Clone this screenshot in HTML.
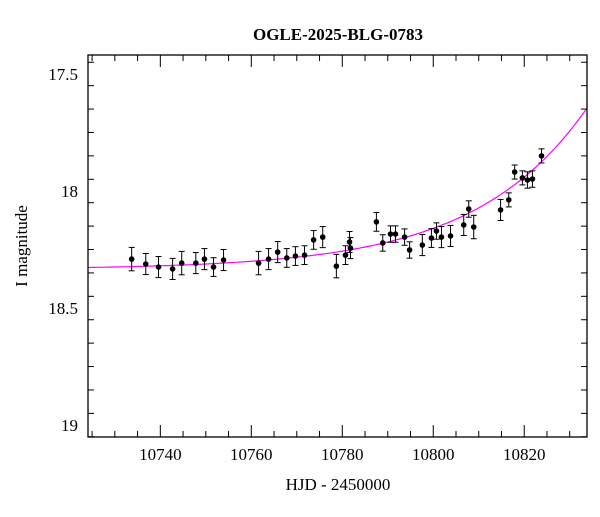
<!DOCTYPE html>
<html><head><meta charset="utf-8"><style>
body{margin:0;background:#fff;}
svg text{font-family:"Liberation Serif",serif;fill:#000;}
</style></head><body>
<svg id="chart" width="600" height="512" xmlns="http://www.w3.org/2000/svg">
<text x="338" y="40" font-size="17" font-weight="bold" text-anchor="middle">OGLE-2025-BLG-0783</text>
<text x="338" y="490" font-size="17" text-anchor="middle">HJD - 2450000</text>
<text transform="translate(27,246) rotate(-90)" font-size="17" text-anchor="middle">I magnitude</text>
<g id="ticks"></g>
<path id="model" fill="none" stroke="#ff00ff" stroke-width="1.2"/>
<g id="points"></g>
<rect x="88" y="55" width="499" height="382" fill="none" stroke="#000" stroke-width="1.3"/>
</svg>
<script>
const hjd=[10733.7,10736.8,10739.6,10742.7,10744.7,10747.8,10749.7,10751.7,10753.9,10761.6,10763.8,10765.8,10767.8,10769.7,10771.7,10773.7,10775.7,10778.7,10780.7,10781.6,10781.8,10787.5,10788.9,10790.6,10791.7,10793.7,10794.8,10797.6,10799.6,10800.7,10801.8,10803.8,10806.7,10807.8,10808.9,10814.8,10816.6,10817.9,10819.6,10820.7,10821.8,10823.8];
const mag=[18.291,18.312,18.325,18.333,18.308,18.308,18.291,18.325,18.295,18.308,18.291,18.261,18.286,18.278,18.274,18.209,18.197,18.321,18.274,18.218,18.244,18.132,18.222,18.184,18.184,18.197,18.252,18.231,18.201,18.171,18.197,18.192,18.145,18.077,18.154,18.081,18.038,17.919,17.944,17.953,17.949,17.85];
const err=[0.05,0.045,0.045,0.045,0.05,0.045,0.045,0.04,0.045,0.05,0.045,0.045,0.04,0.04,0.04,0.04,0.045,0.05,0.04,0.045,0.045,0.04,0.035,0.035,0.035,0.035,0.035,0.045,0.04,0.035,0.045,0.045,0.045,0.035,0.05,0.045,0.03,0.03,0.03,0.035,0.035,0.03];
const xTicks=[10740,10760,10780,10800,10820];
const yTicks=[17.5,18,18.5,19];
const modelBase=[18.335];const modelAmp=[0.695];const modelRate=[0.0405];const modelRef=[10834];
const X0=88,X1=587,Y0=55,Y1=437,D0=10724.1,D1=10833.8,M0=17.419,M1=19.051;
const xs=d=>X0+(d-D0)/(D1-D0)*(X1-X0);
const ys=m=>Y0+(m-M0)/(M1-M0)*(Y1-Y0);
const NS='http://www.w3.org/2000/svg';
function mk(tag,attrs,parent){const e=document.createElementNS(NS,tag);for(const k in attrs)e.setAttribute(k,attrs[k]);parent.appendChild(e);return e;}
const tg=document.getElementById('ticks');
for(let d=10725;d<=D1;d+=5){const x=xs(d);const maj=d%20===0;const L=maj?12:6;
 const t1=mk('line',{x1:x,x2:x,y1:Y1,y2:Y1-L,stroke:'#000','stroke-width':1},tg);
 
 
 const t2=mk('line',{x1:x,x2:x,y1:Y0,y2:Y0+L,stroke:'#000','stroke-width':1},tg);
 
 }
xTicks.forEach(d=>{const t=mk('text',{x:xs(d),y:460,'font-size':17,'text-anchor':'middle'},tg);t.textContent=d;
 
 });
for(let i=0;i<=16;i++){const m=17.45+i*0.1;if(m>M1)break;const y=ys(m);const maj=Math.abs(m*2-Math.round(m*2))<0.01;const L=maj?12:6;
 const t1=mk('line',{x1:X0,x2:X0+L,y1:y,y2:y,stroke:'#000','stroke-width':1},tg);
 
 
 const t2=mk('line',{x1:X1,x2:X1-L,y1:y,y2:y,stroke:'#000','stroke-width':1},tg);
 
 }
yTicks.forEach(m=>{const t=mk('text',{x:78,y:ys(m)+6,'font-size':17,'text-anchor':'end'},tg);t.textContent=m;
 
 });
let p='';for(let d=D0;d<=D1+0.01;d+=0.5){const m=modelBase[0]-modelAmp[0]*Math.exp(modelRate[0]*(d-modelRef[0]));p+=(p?'L':'M')+xs(d).toFixed(1)+','+ys(m).toFixed(1);}
document.getElementById('model').setAttribute('d',p);
const pg=document.getElementById('points');
hjd.forEach((d,i)=>{const x=xs(d),y=ys(mag[i]),ya=ys(mag[i]-err[i]),yb=ys(mag[i]+err[i]);
 const g=mk('g',{},pg);
 
 
 mk('line',{x1:x,x2:x,y1:ya,y2:yb,stroke:'#000','stroke-width':1},g);
 mk('line',{x1:x-3,x2:x+3,y1:ya,y2:ya,stroke:'#000','stroke-width':1},g);
 mk('line',{x1:x-3,x2:x+3,y1:yb,y2:yb,stroke:'#000','stroke-width':1},g);
 mk('circle',{cx:x,cy:y,r:2.8,fill:'#000'},g);});
</script>
</body></html>
